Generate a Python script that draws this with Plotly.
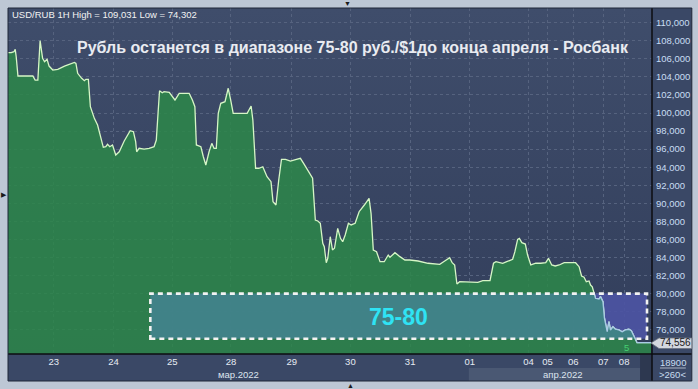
import base64
import numpy as np
import plotly.graph_objects as go

# ---------------- data ----------------
hours = [0.0, 1.3, 2.4, 2.9, 3.3, 4.0, 10.0, 10.9, 12.0, 12.9, 13.9, 14.7, 15.7, 16.5, 18.0, 20.0,
         22.7, 25.3, 26.7, 27.3, 28.0, 29.6, 30.7, 31.3, 32.3, 33.1, 34.7, 36.0, 37.3, 38.3, 39.3,
         40.0, 40.9, 42.0, 43.3, 44.7, 46.7, 49.1, 50.4, 51.3, 51.7, 52.7, 54.7, 56.7, 58.7, 59.6,
         60.3, 60.9, 62.0, 62.7, 64.8, 65.7, 67.1, 68.8, 72.8, 74.1, 75.1, 75.7, 77.5, 78.5, 79.5,
         80.8, 81.9, 82.8, 83.7, 84.5, 85.5, 87.2, 88.5, 89.5, 90.5, 96.1, 97.7, 98.4, 99.5, 100.8,
         102.4, 104.1, 105.7, 106.5, 107.7, 108.8, 109.9, 111.5, 113.5, 115.9, 117.5, 118.8, 120.8,
         122.4, 123.5, 124.5, 125.5, 126.5, 127.1, 127.9, 128.5, 129.5, 130.4, 131.2, 132.5, 133.6,
         134.5, 135.5, 136.8, 137.9, 139.5, 141.1, 143.2, 145.1, 145.9, 146.8, 148.1, 149.5, 151.2,
         152.8, 153.5, 155.5, 157.5, 159.5, 161.5, 164.8, 168.8, 173.5, 175.5, 177.5, 178.5, 179.5,
         180.4, 181.5, 188.8, 190.8, 193.7, 195.1, 196.1, 198.8, 200.4, 202.8, 203.7, 204.8, 205.5,
         206.5, 207.9, 208.8, 210.1, 212.1, 214.1, 216.1, 217.2, 218.5, 219.9, 221.5, 223.5, 228.1,
         229.5, 230.5, 231.5, 232.4, 233.5, 234.1, 234.8, 235.5, 236.1, 237.5, 238.1, 239.1, 239.7,
         240.4, 240.8, 241.5, 242.1, 243.1, 244.1, 245.5, 246.8, 248.1, 249.5, 250.5, 251.5, 252.1,
         252.8, 258.4]
usdrub = [106.68, 106.68, 106.79, 107.05, 106.23, 104.10, 104.10, 103.65, 103.65, 108.01, 106.06,
          105.68, 105.95, 105.20, 104.76, 104.84, 105.20, 105.50, 105.61, 105.50, 104.40, 103.84,
          103.58, 103.73, 103.73, 100.70, 99.41, 98.67, 97.38, 96.20, 96.27, 96.53, 96.27, 96.46,
          95.35, 95.71, 96.90, 98.04, 97.93, 96.82, 95.71, 96.09, 96.01, 96.09, 96.27, 97.01, 99.97,
          102.47, 102.25, 102.36, 102.29, 101.99, 101.44, 102.18, 102.18, 101.44, 100.70, 96.46,
          96.27, 95.16, 94.24, 95.71, 96.64, 96.09, 96.09, 99.97, 101.07, 101.25, 102.74, 101.44,
          99.97, 99.97, 100.78, 99.22, 93.88, 93.88, 94.05, 92.95, 92.39, 90.18, 89.81, 92.58,
          94.87, 94.87, 94.68, 94.87, 94.98, 94.43, 93.50, 92.77, 88.15, 88.04, 87.79, 85.57, 85.19,
          83.42, 83.91, 86.30, 84.83, 85.02, 87.23, 86.12, 85.75, 86.49, 87.79, 87.60, 87.79, 89.07,
          89.81, 90.55, 88.89, 84.83, 84.64, 83.53, 83.53, 84.27, 84.02, 84.53, 84.09, 83.72, 83.72,
          83.61, 83.36, 83.24, 83.61, 83.98, 83.42, 83.17, 81.06, 81.32, 81.25, 81.43, 81.43, 83.36,
          83.53, 83.36, 83.53, 83.80, 84.64, 86.01, 86.12, 85.64, 85.49, 84.27, 83.17, 83.36, 83.36,
          83.42, 83.91, 83.17, 83.06, 83.17, 83.42, 83.42, 82.98, 81.95, 81.81, 81.32, 81.40, 80.95,
          80.76, 80.10, 79.48, 79.40, 79.66, 79.10, 77.27, 76.33, 75.78, 76.89, 75.97, 76.33, 76.05,
          75.97, 75.78, 75.97, 76.05, 75.89, 75.30, 74.86, 74.56, 74.56]

tick_hours = [18.4, 42.4, 66.0, 89.6, 114.0, 137.6, 161.6, 185.6, 209.2, 216.8, 227.2, 239.2, 247.6]
tick_labels = ["23", "24", "25", "28", "29", "30", "31", "01", "04", "05", "06", "07", "08"]
y_ticks = list(range(76, 111, 2))
y_tick_labels = [f"{t},000" for t in y_ticks]
month_labels = ["мар.2022", "апр.2022"]
month_hours = [92.8, 222.8]

band_low, band_high = 75, 80
band_start, band_end = 57.2, 256.8
last_price = 74.556

title_text = "Рубль останется в диапазоне 75-80 руб./$1до конца апреля - Росбанк"
info_text = "USD/RUB 1H High = 109,031 Low = 74,302"

x_range = [0, 258.8]
y_range = [73.31, 111.63]

# ---------------- figure ----------------
h = np.array(hours)
v = np.array(usdrub)

fig = go.Figure()

# band background (purple), drawn first so the area covers it
fig.add_trace(go.Scatter(
    x=[band_start, band_end, band_end, band_start, band_start],
    y=[band_low, band_low, band_high, band_high, band_low],
    mode="lines", fill="toself", fillcolor="rgba(76,84,162,0.93)", line=dict(width=0),
    hoverinfo="skip", showlegend=False))

# main green area
fig.add_trace(go.Scatter(
    x=h, y=v, mode="lines", fill="tozeroy",
    fillcolor="rgba(44,135,73,0.86)",
    line=dict(color="#d6f6c6", width=1.3),
    hoverinfo="skip", showlegend=False))

# teal overlay = part of the area inside the 75-80 band
inside = (h > band_start) & (h < band_end)
bx = np.concatenate([[band_start], h[inside], [band_end]])
by = np.interp(bx, h, v)
by = np.clip(by, band_low, band_high)
poly_x = np.concatenate([bx, [band_end, band_start]])
poly_y = np.concatenate([by, [band_low, band_low]])
fig.add_trace(go.Scatter(
    x=poly_x, y=poly_y, mode="lines", fill="toself",
    fillcolor="rgba(66,130,140,0.92)", line=dict(width=0),
    hoverinfo="skip", showlegend=False))

# line inside the band, bluish
i0 = int(np.argmax(v < band_high)) - 1
fig.add_trace(go.Scatter(
    x=h[i0:], y=v[i0:], mode="lines",
    line=dict(color="#a9cbe6", width=1.3),
    hoverinfo="skip", showlegend=False))

PW = 647.0  # plot width px
PH = 346.0  # plot height px
def px_x(px):
    return (px - 8) / PW
def px_y(py):
    return (354 - py) / PH

# subtle vertical gradient for the plot background
svg = ("<svg xmlns='http://www.w3.org/2000/svg' width='10' height='100' preserveAspectRatio='none'>"
       "<defs><linearGradient id='g' x1='0' y1='0' x2='0' y2='1'>"
       "<stop offset='0' stop-color='#3f4d6b'/><stop offset='1' stop-color='#323e5b'/>"
       "</linearGradient></defs><rect width='10' height='100' fill='url(#g)'/></svg>")
bg_uri = "data:image/svg+xml;base64," + base64.b64encode(svg.encode()).decode()

p_tip, p_l, p_r = px_x(654), px_x(662), px_x(695)
p_mid, p_top, p_bot = px_y(343), px_y(338), px_y(348.5)
price_path = (f"M {p_tip} {p_mid} L {p_l} {p_top} L {p_r} {p_top} "
              f"L {p_r} {p_bot} L {p_l} {p_bot} Z")

shapes = [
    # dark axis panels (paper)
    dict(type="rect", xref="paper", yref="paper", x0=0, x1=px_x(695), y0=px_y(381), y1=1,
         fillcolor="#3a4866", line=dict(width=0), layer="below"),
    # band dashed border
    dict(type="rect", xref="x", yref="y", x0=band_start, x1=band_end, y0=band_low, y1=band_high,
         fillcolor="rgba(0,0,0,0)", line=dict(color="#f2f2f2", width=2.6, dash="5px,4px"),
         layer="above"),
    # april panel and dark strip in x-axis area
    dict(type="rect", xref="paper", yref="paper", x0=px_x(471), x1=px_x(643), y0=px_y(381), y1=px_y(368),
         fillcolor="#4a5873", line=dict(width=0)),
    dict(type="rect", xref="paper", yref="paper", x0=px_x(643), x1=px_x(655), y0=px_y(381), y1=px_y(355),
         fillcolor="#2d3850", line=dict(width=0)),
    # axis lines
    dict(type="line", xref="paper", yref="paper", x0=0, x1=px_x(695), y0=0, y1=0,
         line=dict(color="#0c0c10", width=1.5)),
    dict(type="line", xref="paper", yref="paper", x0=1, x1=1, y0=px_y(381), y1=1,
         line=dict(color="#0c0c10", width=1.5)),
    # outer border
    dict(type="rect", xref="paper", yref="paper", x0=0, x1=px_x(695), y0=px_y(381), y1=1,
         fillcolor="rgba(0,0,0,0)", line=dict(color="#1f2738", width=1)),
    # separator in corner
    dict(type="line", xref="paper", yref="paper", x0=px_x(663), x1=px_x(689), y0=px_y(368), y1=px_y(368),
         line=dict(color="#aab4c4", width=1)),
    # last price marker
    dict(type="path", xref="paper", yref="paper", path=price_path,
         fillcolor="#d3d7df", line=dict(color="#6c7482", width=0.8)),
]

annotations = [
    dict(text=info_text, xref="paper", yref="paper", x=px_x(10), y=px_y(15), xanchor="left",
         yanchor="middle", showarrow=False, font=dict(family="Liberation Sans, Arial", size=9.5, color="#f2f2f2")),
    dict(text=title_text, xref="paper", yref="paper", x=px_x(355), y=px_y(47.5), xanchor="center",
         yanchor="middle", showarrow=False,
         font=dict(family="Liberation Sans, Arial", size=16, color="#e9ebf1", weight="bold")),
    dict(text="<b>75-80</b>", xref="x", yref="y", x=156.8, y=77.45, xanchor="center", yanchor="middle",
         showarrow=False, font=dict(family="Liberation Sans, Arial", size=23, color="#2fe3f4")),
    dict(text="74,556", xref="paper", yref="y", x=px_x(679), y=last_price, xanchor="center",
         yanchor="middle", showarrow=False,
         font=dict(family="Liberation Sans, Arial", size=10, color="#1c1c1c")),
    dict(text="18900", xref="paper", yref="paper", x=px_x(676), y=px_y(362), xanchor="center",
         yanchor="middle", showarrow=False, font=dict(family="Liberation Sans, Arial", size=9.5, color="#c8dcf0")),
    dict(text="&gt;260&lt;", xref="paper", yref="paper", x=px_x(676), y=px_y(374.5), xanchor="center",
         yanchor="middle", showarrow=False, font=dict(family="Liberation Sans, Arial", size=9.5, color="#c8dcf0")),
    dict(text="5", xref="x", yref="y", x=248.4, y=73.98, xanchor="center", yanchor="middle",
         showarrow=False, font=dict(family="Liberation Sans, Arial", size=9.5, color="#45cf72")),
    dict(text="▼", xref="paper", yref="paper", x=px_x(349), y=px_y(4), showarrow=False,
         xanchor="center", yanchor="middle", font=dict(size=7, color="#1a1a1a")),
    dict(text="▲", xref="paper", yref="paper", x=px_x(352), y=px_y(385), showarrow=False,
         xanchor="center", yanchor="middle", font=dict(size=7, color="#1a1a1a")),
    dict(text="▶", xref="paper", yref="paper", x=px_x(3.5), y=px_y(194), showarrow=False,
         xanchor="center", yanchor="middle", font=dict(size=7, color="#1a1a1a")),
]
for lab, mh in zip(month_labels, month_hours):
    annotations.append(dict(text=lab, xref="x", yref="paper", x=mh, y=px_y(374.5), xanchor="center",
                            yanchor="middle", showarrow=False,
                            font=dict(family="Liberation Sans, Arial", size=9.5, color="#dde4ee")))

fig.update_layout(
    width=698, height=389, autosize=False,
    margin=dict(l=8, r=43, t=8, b=35, pad=0),
    paper_bgcolor="#bdc7d5",
    plot_bgcolor="#394664",
    showlegend=False,
    shapes=shapes,
    annotations=annotations,
    images=[dict(source=bg_uri, xref="x", yref="y", x=x_range[0], y=y_range[1],
                 sizex=x_range[1] - x_range[0], sizey=y_range[1] - y_range[0],
                 sizing="stretch", xanchor="left", yanchor="top", layer="below")],
    xaxis=dict(range=x_range, tickvals=tick_hours, ticktext=tick_labels, showgrid=True,
               gridcolor="#56637f", griddash="3px,3px", gridwidth=1, zeroline=False, ticks="",
               tickfont=dict(family="Liberation Sans, Arial", size=9.5, color="#e6ebf3"),
               showline=False, fixedrange=True),
    yaxis=dict(range=y_range, side="right", tickvals=y_ticks, ticktext=y_tick_labels,
               showgrid=True, gridcolor="#56637f", griddash="3px,3px", gridwidth=1, zeroline=False,
               ticks="", ticklabelstandoff=3,
               tickfont=dict(family="Liberation Sans, Arial", size=9.5, color="#c9ddf3"),
               showline=False, fixedrange=True),
)

fig.write_html(
    "out.html",
    config={"displayModeBar": False, "staticPlot": True},
    post_script="document.body.style.margin='0';document.body.style.padding='0';"
                "document.body.style.background='#bdc7d5';document.body.style.overflow='hidden';",
)
